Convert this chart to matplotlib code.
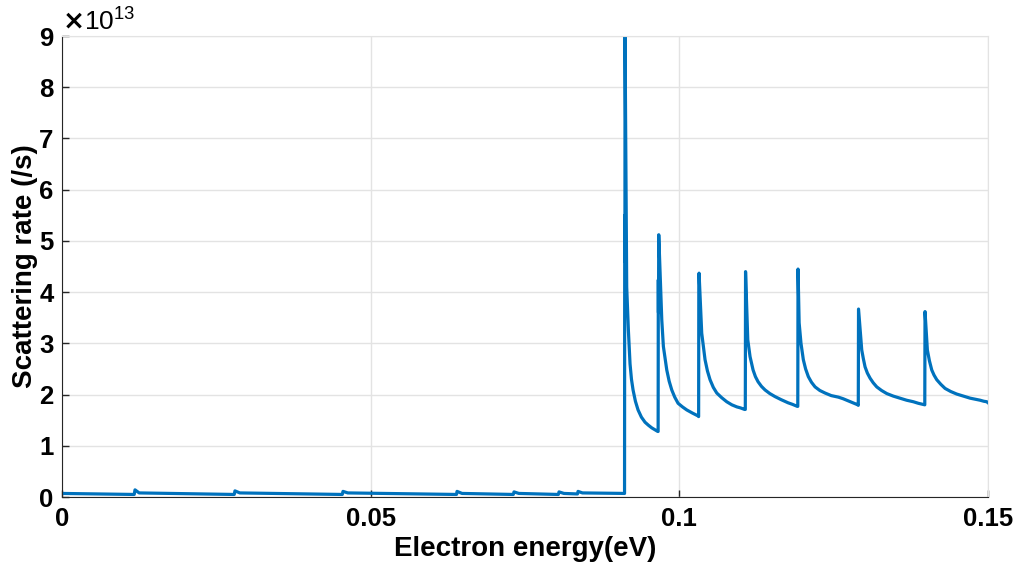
import matplotlib.pyplot as plt
import numpy as np

plt.rcParams['font.family'] = ['Liberation Sans', 'DejaVu Sans']
plt.rcParams['font.weight'] = 'bold'

# electron energy (eV) and scattering rate (x1e13 /s)
base_energy = [0.0, 0.0117, 0.01183, 0.0125, 0.0279, 0.02802, 0.0288, 0.0454, 0.04552,
               0.0463, 0.0639, 0.06399, 0.0648, 0.0731, 0.07322, 0.0740, 0.0804, 0.08051,
               0.0813, 0.0835, 0.08359, 0.0843, 0.0911]
base_rate = [0.07, 0.05, 0.14, 0.08, 0.05, 0.12, 0.08, 0.05, 0.11,
             0.08, 0.05, 0.11, 0.07, 0.05, 0.10, 0.07, 0.05, 0.10,
             0.07, 0.06, 0.11, 0.08, 0.07]

peak_energy = [0.09112, 0.09115, 0.09118, 0.09120, 0.09147, 0.09174, 0.09201, 0.09224,
               0.09250, 0.09288, 0.09331, 0.09385, 0.09444, 0.09500, 0.09553, 0.09650,
               0.09656, 0.09659, 0.09662, 0.09666, 0.09715, 0.09741, 0.09796, 0.09835,
               0.09877, 0.09925, 0.09979, 0.10050, 0.10120, 0.10210, 0.10308,
               0.10312, 0.10315, 0.10319, 0.10362, 0.10416, 0.10455, 0.10497, 0.10550,
               0.10606, 0.10685, 0.10767, 0.10850, 0.10930, 0.10990, 0.11056,
               0.11068, 0.11072, 0.11108, 0.11145, 0.11194, 0.11232, 0.11275, 0.11330,
               0.11388, 0.11465, 0.11550, 0.11650, 0.11760, 0.11830, 0.11910,
               0.11918, 0.11922, 0.11940, 0.11970, 0.12008, 0.12045, 0.12089, 0.12140,
               0.12198, 0.12275, 0.12360, 0.12460, 0.12575, 0.12650, 0.12732, 0.12810,
               0.12890,
               0.12898, 0.12902, 0.12954, 0.12980, 0.13008, 0.13045, 0.13089, 0.13140,
               0.13197, 0.13275, 0.13359, 0.13465, 0.13575, 0.13680, 0.13790, 0.13870,
               0.13970,
               0.13975, 0.13979, 0.14017, 0.14050, 0.14088, 0.14125, 0.14169, 0.14235,
               0.14304, 0.14395, 0.14493, 0.14600, 0.14709, 0.14790, 0.14871, 0.14930,
               0.14980, 0.15000]
peak_rate = [0.07, 5.5, 4.6, 9.0, 4.1, 3.26, 2.6, 2.3,
             2.09, 1.87, 1.70, 1.56, 1.46, 1.40, 1.35, 1.28,
             1.28, 4.24, 3.6, 5.12, 3.46, 2.94, 2.48, 2.26,
             2.09, 1.95, 1.83, 1.76, 1.70, 1.64, 1.58,
             1.57, 4.18, 4.37, 3.2, 2.68, 2.46, 2.29, 2.14,
             2.03, 1.94, 1.86, 1.80, 1.76, 1.74, 1.71,
             1.71, 4.40, 3.07, 2.74, 2.48, 2.35, 2.25, 2.16,
             2.09, 2.02, 1.96, 1.90, 1.84, 1.81, 1.77,
             1.77, 4.45, 3.4, 3.0, 2.68, 2.50, 2.35, 2.24,
             2.15, 2.08, 2.03, 1.98, 1.95, 1.92, 1.88, 1.84,
             1.80,
             1.79, 3.67, 2.87, 2.70, 2.54, 2.42, 2.32, 2.23,
             2.15, 2.08, 2.02, 1.97, 1.93, 1.89, 1.86, 1.83,
             1.80,
             1.80, 3.62, 2.87, 2.66, 2.48, 2.38, 2.29, 2.20,
             2.12, 2.06, 2.01, 1.97, 1.93, 1.91, 1.89, 1.87,
             1.86, 1.84]

energy = np.array(base_energy + peak_energy)
rate = np.array(base_rate + peak_rate) * 1e13

fig = plt.figure(figsize=(10.16, 5.69), dpi=100)
ax = fig.add_axes([0.061, 0.1265, 0.9115, 0.8102])

ax.plot(energy, rate, color='#0072BD', lw=2.3, solid_joinstyle='round')

ax.set_xlim(0, 0.15)
ax.set_ylim(0, 9e13)
ax.set_xticks([0, 0.05, 0.1, 0.15])
ax.set_xticklabels(['0', '0.05', '0.1', '0.15'])
ax.set_yticks(np.arange(0, 10) * 1e13)
ax.set_yticklabels([str(i) for i in range(10)])
ax.grid(True, color='#e3e3e3', lw=1)
ax.set_axisbelow(True)

ax.tick_params(direction='in', length=5, width=1, labelsize=18.5, color='#262626')
ax.tick_params(axis='x', pad=7)
ax.tick_params(axis='y', pad=6)
for s in ['left', 'bottom']:
    ax.spines[s].set_color('#262626')
for s in ['top', 'right']:
    ax.spines[s].set_color('#e3e3e3')

ax.set_xlabel('Electron energy(eV)', fontsize=20, fontweight='bold', labelpad=4)
ax.set_ylabel('Scattering rate (/s)', fontsize=20, fontweight='bold', labelpad=1)

ax.text(0.0, 1.0, r'$\times\mathregular{10^{13}}$', transform=ax.transAxes,
        fontsize=19, fontweight='normal', ha='left', va='bottom')

fig.savefig('out.png', dpi=100)
